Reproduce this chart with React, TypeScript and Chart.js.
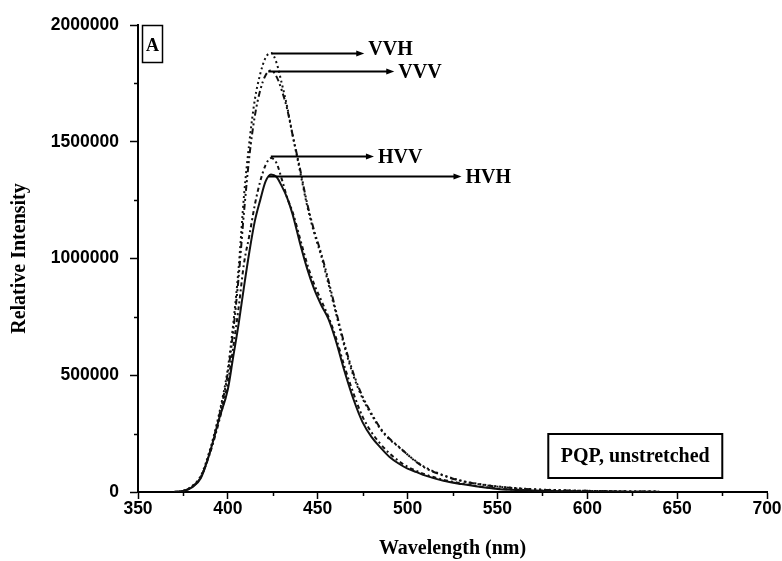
import React, { useEffect, useRef } from 'react';
import { Chart, registerables } from 'chart.js';

Chart.register(...registerables);

// ---------- data ----------
const wavelengths = [
  370, 375, 380, 385, 390, 395, 400, 403, 406, 409, 412, 415, 418, 421, 424, 427, 430, 433, 436, 440,
  444, 448, 452, 456, 460, 465, 470, 475, 480, 485, 490, 495, 500, 505, 510, 520, 530, 540, 550, 560,
  570, 580, 590, 600, 610, 620, 630, 640,
];

const vvhValues = [
  0, 5000, 25000, 70000, 180000, 330000, 530000, 720000, 960000, 1270000, 1500000, 1680000, 1790000, 1860000, 1880000, 1840000, 1750000, 1650000, 1530000, 1380000,
  1230000, 1110000, 1010000, 890000, 770000, 620000, 495000, 400000, 330000, 268000, 225000, 193000, 160000, 130000, 105000, 72000, 48000, 34000, 24000, 17000,
  12000, 9000, 7000, 5000, 4000, 3000, 2000, 1500,
];

const vvvValues = [
  0, 4000, 22000, 65000, 170000, 320000, 510000, 690000, 920000, 1200000, 1440000, 1610000, 1720000, 1785000, 1805000, 1780000, 1720000, 1640000, 1530000, 1390000,
  1240000, 1120000, 1020000, 905000, 780000, 630000, 505000, 408000, 335000, 272000, 228000, 195000, 160000, 128000, 102000, 70000, 47000, 33000, 23000, 16000,
  11000, 8000, 6000, 5000, 3500, 2500, 2000, 1500,
];

const hvvValues = [
  0, 4000, 22000, 65000, 165000, 300000, 470000, 620000, 790000, 980000, 1100000, 1230000, 1330000, 1400000, 1430000, 1410000, 1340000, 1260000, 1200000, 1090000,
  980000, 890000, 820000, 750000, 665000, 535000, 420000, 322000, 255000, 205000, 165000, 133000, 108000, 90000, 75000, 52000, 37000, 24000, 15000, 10000,
  7000, 5000, 3500, 3000, 2000, 1500, 1200, 1000,
];

const hvhValues = [
  0, 4000, 20000, 60000, 170000, 310000, 440000, 580000, 720000, 880000, 1030000, 1160000, 1250000, 1330000, 1360000, 1350000, 1310000, 1260000, 1190000, 1070000,
  960000, 870000, 800000, 740000, 650000, 515000, 395000, 298000, 235000, 190000, 150000, 122000, 100000, 85000, 70000, 48000, 34000, 22000, 13000, 9000,
  6000, 4000, 3000, 2500, 2000, 1500, 1000, 800,
];

const seriesNames = ['VVH', 'VVV', 'HVV', 'HVH'];

const xTickValues = [350, 400, 450, 500, 550, 600, 650, 700];
const xMinorTickValues = [375, 425, 475, 525, 575, 625, 675];
const yTickValues = [0, 500000, 1000000, 1500000, 2000000];
const yMinorTickValues = [250000, 750000, 1250000, 1750000];

// peak-marker arrows: start wavelength, intensity, arrow-tip wavelength
const arrowLabels = ['VVH', 'VVV', 'HVV', 'HVH'];
const arrowStartNm = [424.4, 422.5, 423.9, 422.5];
const arrowIntensity = [1881000, 1803000, 1439000, 1353000];
const arrowEndNm = [475.9, 492.6, 481.3, 530];

const panelLetter = 'A';
const sampleLabel = 'PQP, unstretched';
const xTitle = 'Wavelength (nm)';
const yTitle = 'Relative Intensity';

// ---------- rendering ----------
const SERIF = '"Liberation Serif", "Times New Roman", serif';
const SANS = '"Liberation Sans", Arial, sans-serif';

const toPoints = (vals: number[]) => wavelengths.map((w, i) => ({ x: w, y: vals[i] }));

const overlayPlugin = {
  id: 'overlay',
  afterDraw(chart: any) {
    const { ctx, chartArea } = chart;
    const xs = chart.scales.x;
    const ys = chart.scales.y;
    ctx.save();
    ctx.strokeStyle = '#000';
    ctx.fillStyle = '#000';
    ctx.lineWidth = 1.5;

    // minor ticks
    xMinorTickValues.forEach((v) => {
      const px = Math.round(xs.getPixelForValue(v)) + 0.5;
      ctx.beginPath();
      ctx.moveTo(px, chartArea.bottom);
      ctx.lineTo(px, chartArea.bottom + 4);
      ctx.stroke();
    });
    yMinorTickValues.forEach((v) => {
      const py = Math.round(ys.getPixelForValue(v)) + 0.5;
      ctx.beginPath();
      ctx.moveTo(chartArea.left - 4, py);
      ctx.lineTo(chartArea.left, py);
      ctx.stroke();
    });

    // arrows with labels
    ctx.font = `bold 20px ${SERIF}`;
    ctx.textBaseline = 'middle';
    ctx.textAlign = 'left';
    arrowLabels.forEach((name, i) => {
      const x0 = xs.getPixelForValue(arrowStartNm[i]);
      const x1 = xs.getPixelForValue(arrowEndNm[i]);
      const py = Math.round(ys.getPixelForValue(arrowIntensity[i])) + 0.5;
      ctx.lineWidth = 2;
      ctx.beginPath();
      ctx.moveTo(x0, py);
      ctx.lineTo(x1 - 6, py);
      ctx.stroke();
      ctx.beginPath();
      ctx.moveTo(x1, py);
      ctx.lineTo(x1 - 8, py - 3);
      ctx.lineTo(x1 - 8, py + 3);
      ctx.closePath();
      ctx.fill();
      ctx.fillText(name, x1 + 4, py + (i === 0 ? -4 : 1));
    });

    // panel letter box
    ctx.lineWidth = 1.5;
    const ax = chartArea.left + 4;
    const ay = chartArea.top;
    ctx.strokeRect(ax + 0.5, ay + 0.5, 20, 37);
    ctx.font = `bold 18px ${SERIF}`;
    ctx.textAlign = 'center';
    ctx.fillText(panelLetter, ax + 10.5, ay + 21);

    // sample label box
    const bx = xs.getPixelForValue(600) - 39;
    const by = ys.getPixelForValue(0) - 58;
    ctx.lineWidth = 2;
    ctx.strokeRect(bx, by, 174, 44);
    ctx.font = `bold 20px ${SERIF}`;
    ctx.fillText(sampleLabel, bx + 87, by + 23);

    ctx.restore();
  },
};

export default function App() {
  const canvasRef = useRef<HTMLCanvasElement | null>(null);

  useEffect(() => {
    if (!canvasRef.current) return;
    const dashes = [[2, 3], [6, 3, 2, 3, 2, 3], [4, 3, 2, 3], []];
    const values = [vvhValues, vvvValues, hvvValues, hvhValues];
    const chart = new Chart(canvasRef.current, {
      type: 'line',
      data: {
        datasets: seriesNames.map((name, i) => ({
          label: name,
          data: toPoints(values[i]),
          borderColor: '#111',
          borderWidth: 2,
          borderDash: dashes[i],
          pointRadius: 0,
          fill: false,
          cubicInterpolationMode: 'monotone' as const,
        })),
      },
      options: {
        responsive: false,
        animation: false,
        devicePixelRatio: 1,
        layout: { padding: { left: 0, right: 15, top: 25, bottom: 0 } },
        plugins: {
          legend: { display: false },
          tooltip: { enabled: false },
          title: { display: false },
        },
        scales: {
          x: {
            type: 'linear',
            min: 350,
            max: 700,
            afterBuildTicks: (scale: any) => {
              scale.ticks = xTickValues.map((v) => ({ value: v }));
            },
            afterFit: (scale: any) => {
              scale.height = 69;
            },
            ticks: {
              color: '#000',
              font: { family: SANS, weight: 'bold', size: 17.5 },
              padding: 0,
              maxRotation: 0,
              autoSkip: false,
              callback: (v: any) => String(v),
            },
            grid: {
              drawOnChartArea: false,
              drawTicks: true,
              tickLength: 7,
              tickColor: '#000',
              tickWidth: 1.5,
            },
            border: { display: true, color: '#000', width: 2 },
            title: {
              display: true,
              text: xTitle,
              color: '#000',
              font: { family: SERIF, weight: 'bold', size: 20 },
              padding: { top: 0, bottom: 0 },
            },
          },
          y: {
            type: 'linear',
            min: 0,
            max: 2000000,
            afterBuildTicks: (scale: any) => {
              scale.ticks = yTickValues.map((v) => ({ value: v }));
            },
            afterFit: (scale: any) => {
              scale.width = 138;
            },
            ticks: {
              color: '#000',
              font: { family: SANS, weight: 'bold', size: 17.5 },
              padding: 11,
              autoSkip: false,
              callback: (v: any) => String(v),
            },
            grid: {
              drawOnChartArea: false,
              drawTicks: true,
              tickLength: 8,
              tickColor: '#000',
              tickWidth: 1.5,
            },
            border: { display: true, color: '#000', width: 2 },
            title: {
              display: true,
              text: yTitle,
              color: '#000',
              font: { family: SERIF, weight: 'bold', size: 20 },
              padding: { top: 8, bottom: 0 },
            },
          },
        },
      },
      plugins: [overlayPlugin],
    } as any);
    return () => chart.destroy();
  }, []);

  return (
    <div style={{ position: 'absolute', left: 0, top: 0, width: 782, height: 561, background: '#fff' }}>
      <canvas ref={canvasRef} width={782} height={561} style={{ display: 'block' }} />
    </div>
  );
}
